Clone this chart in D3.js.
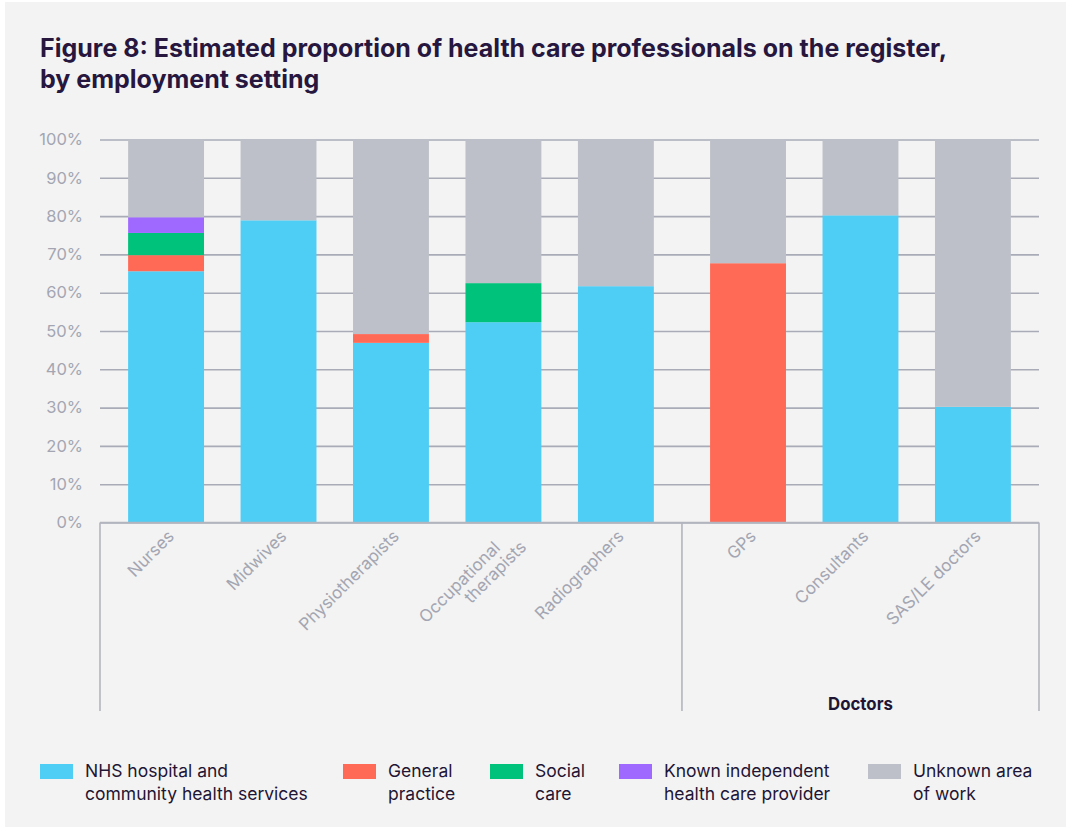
<!DOCTYPE html>
<html lang="en">
	<head>
		<meta charset="utf-8">
		<title>Figure 8</title>
		<script src="https://d3js.org/d3.v7.min.js"></script>
		<style type="text/css">
body { margin: 0; background: #ffffff; }
svg { display: block; }
		</style>
	</head>
	<body>
<div id="chart"></div>
		<script type="text/javascript">
//Data
var categories = ["Nurses", "Midwives", "Physiotherapists", "Occupational therapists",
                  "Radiographers", "GPs", "Consultants", "SAS/LE doctors"];
var groupNames = ["", "Doctors"];
var groupOf = ["", "", "", "", "", "Doctors", "Doctors", "Doctors"];

var seriesNames = ["NHS hospital and community health services", "General practice",
                   "Social care", "Known independent health care provider", "Unknown area of work"];
var nhs      = [65.6, 78.9, 46.9, 52.3, 61.7, 0, 80.2, 30.2];
var gp       = [4.2, 0, 2.3, 0, 0, 67.7, 0, 0];
var social   = [5.8, 0, 0, 10.2, 0, 0, 0, 0];
var indep    = [4.1, 0, 0, 0, 0, 0, 0, 0];
var unknown  = [20.3, 21.1, 50.8, 37.5, 38.3, 32.3, 19.8, 69.8];

var yTicks = [0, 10, 20, 30, 40, 50, 60, 70, 80, 90, 100];

//Width and height
var w = 1069;
var h = 830;
var plotLeft = 100, plotRight = 1039, plotTop = 139.5, plotBottom = 522.5, groupBottom = 711;
var colors = ["#4ecef5", "#ff6a56", "#00c27a", "#9f69ff", "#bdc0c8"];
var gridColor = "#a9acb7";
var axisColor = "#b2b5be";
var labelColor = "#a3a6b2";
var darkText = "#1f1535";

var rows = categories.map(function (c, i) {
  return {name: c, group: groupOf[i], s0: nhs[i], s1: gp[i], s2: social[i], s3: indep[i], s4: unknown[i]};
});
var stack = d3.stack().keys(["s0", "s1", "s2", "s3", "s4"]);
var stacked = stack(rows);

//Scales
var yScale = d3.scaleLinear().domain([0, 100]).range([plotBottom, plotTop]);

var padInner = 0.325, padOuter = 0.25;
var groupCounts = groupNames.map(g => groupOf.filter(d => d === g).length);
var units = groupCounts.map(n => n - padInner + 2 * padOuter);
var unitW = (plotRight - plotLeft) / d3.sum(units);
var groupEdges = [plotLeft];
units.forEach(function (u) { groupEdges.push(groupEdges[groupEdges.length - 1] + u * unitW); });

var xScales = {};
groupNames.forEach(function (g, i) {
  xScales[g] = d3.scaleBand()
    .domain(categories.filter((c, j) => groupOf[j] === g))
    .range([groupEdges[i], groupEdges[i + 1]])
    .paddingInner(padInner)
    .paddingOuter(padOuter);
});
function xPos(d) { return xScales[d.data.group](d.data.name); }
function xCenter(name, g) { return xScales[g](name) + xScales[g].bandwidth() / 2; }

//Create SVG element
var svg = d3.select("div#chart")
			.append("svg")
			.attr("width", w)
			.attr("height", h);

svg.append("rect")
  .attr("x", 5).attr("y", 2)
  .attr("width", w - 8).attr("height", h - 5)
  .attr("fill", "#f3f3f3");

//Title
var title = svg.append("text")
  .attr("font-family", "Inter, sans-serif")
  .attr("font-weight", 700)
  .attr("font-size", 25)
  .attr("fill", "#27173f");
title.append("tspan").attr("x", 40).attr("y", 57)
  .text("Figure 8: Estimated proportion of health care professionals on the register,");
title.append("tspan").attr("x", 40).attr("y", 88)
  .text("by employment setting");

//Y axis with gridlines
var yAxis = d3.axisLeft(yScale)
  .tickValues(yTicks)
  .tickSize(-(plotRight - plotLeft))
  .tickPadding(17)
  .tickFormat(d => d + "%");

var yg = svg.append("g")
  .attr("transform", "translate(" + plotLeft + ",0)")
  .call(yAxis);
yg.select(".domain").remove();
yg.selectAll(".tick line").attr("stroke", gridColor).attr("stroke-width", 1.6);
yg.selectAll(".tick text")
  .attr("fill", labelColor)
  .attr("font-family", "Inter, sans-serif")
  .attr("font-size", 16.5);

//Bars
svg.append("g").selectAll("g")
  .data(stacked)
  .enter()
  .append("g")
  .attr("fill", (d, i) => colors[i])
  .selectAll("rect")
  .data(d => d)
  .enter()
  .append("rect")
  .attr("x", d => xPos(d))
  .attr("y", d => yScale(d[1]))
  .attr("width", d => xScales[d.data.group].bandwidth())
  .attr("height", d => yScale(d[0]) - yScale(d[1]));

//Category axis lines
svg.append("line")
  .attr("x1", plotLeft).attr("x2", plotRight)
  .attr("y1", plotBottom).attr("y2", plotBottom)
  .attr("stroke", axisColor).attr("stroke-width", 1.6);
svg.append("g").selectAll("line")
  .data(groupEdges)
  .enter()
  .append("line")
  .attr("x1", d => d).attr("x2", d => d)
  .attr("y1", plotBottom).attr("y2", groupBottom)
  .attr("stroke", axisColor).attr("stroke-width", 1.6);

//Category labels
var catLabels = svg.append("g").selectAll("text")
  .data(categories)
  .enter()
  .append("text")
  .attr("transform", (d, i) => "translate(" + (xCenter(d, groupOf[i]) + 9) + "," + (plotBottom + 15) + ") rotate(-45)")
  .attr("text-anchor", "end")
  .attr("fill", labelColor)
  .attr("font-family", "Inter, sans-serif")
  .attr("font-size", 17);
catLabels.each(function (d) {
  var words = d === "Occupational therapists" ? ["Occupational", "therapists"] : [d];
  var t = d3.select(this);
  if (words.length === 1) {
    t.text(d);
  } else {
    t.append("tspan").attr("x", -16).attr("y", 0).text(words[0]);
    t.append("tspan").attr("x", 3).attr("y", 18).text(words[1]);
  }
});

//Group labels
svg.append("g").selectAll("text")
  .data(groupNames)
  .enter()
  .append("text")
  .attr("x", (d, i) => (groupEdges[i] + groupEdges[i + 1]) / 2)
  .attr("y", groupBottom - 1)
  .attr("text-anchor", "middle")
  .attr("font-family", "Inter, sans-serif")
  .attr("font-weight", 700)
  .attr("font-size", 16.8)
  .attr("fill", darkText)
  .text(d => d);

//Legend
var legendLines = [["NHS hospital and", "community health services"], ["General", "practice"],
                   ["Social", "care"], ["Known independent", "health care provider"], ["Unknown area", "of work"]];
var legendX = [40, 343, 490, 619, 868];
var legend = svg.append("g").selectAll("g")
  .data(seriesNames)
  .enter()
  .append("g")
  .attr("transform", (d, i) => "translate(" + legendX[i] + ",764)");
legend.append("rect")
  .attr("width", 33).attr("height", 15)
  .attr("fill", (d, i) => colors[i]);
legend.append("text")
  .attr("font-family", "Inter, sans-serif")
  .attr("font-size", 17.5)
  .attr("fill", darkText)
  .each(function (d, i) {
    var t = d3.select(this);
    legendLines[i].forEach(function (line, k) {
      t.append("tspan").attr("x", 45).attr("y", 13 + k * 23).text(line);
    });
  });
		</script>
	</body>
</html>
